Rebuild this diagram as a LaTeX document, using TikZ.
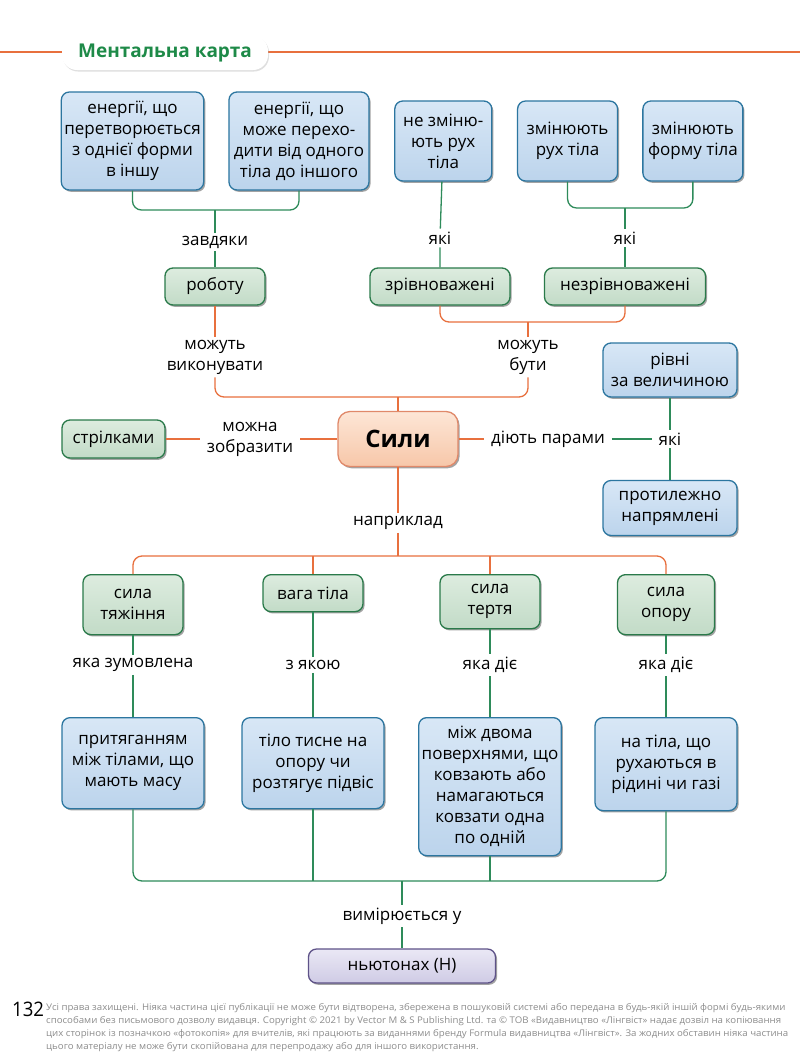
\documentclass[tikz,border=0pt]{standalone}
\usepackage{fontspec}
\setmainfont{Open Sans}
\newfontfamily\footfont[FakeStretch=1.05]{Open Sans}
\newfontfamily\pagefont[FakeStretch=0.93]{Open Sans}
\usetikzlibrary{positioning,shadows}

\definecolor{blutop}{HTML}{D8E7F6}
\definecolor{blubot}{HTML}{BCD4EC}
\definecolor{bludraw}{HTML}{2C76A0}
\definecolor{grntop}{HTML}{DDECDF}
\definecolor{grnbot}{HTML}{C2DBC7}
\definecolor{grndraw}{HTML}{2A7A4A}
\definecolor{orntop}{HTML}{FDE6D6}
\definecolor{ornbot}{HTML}{F7C7A9}
\definecolor{orndraw}{HTML}{E0896A}
\definecolor{lavtop}{HTML}{EAE8F5}
\definecolor{lavbot}{HTML}{CFCBE5}
\definecolor{lavdraw}{HTML}{5E5288}
\definecolor{gline}{HTML}{2E8B5A}
\definecolor{oline}{HTML}{E8703E}
\definecolor{ttlgreen}{HTML}{1E8A48}

\begin{document}
\begin{tikzpicture}[
  x=1pt, y=1pt,
  font=\fontsize{17}{21}\selectfont,
  box/.style={rounded corners=8pt, line width=1.3pt, align=center, inner sep=3pt,
              drop shadow={shadow xshift=1.6pt, shadow yshift=-1.8pt, fill=black!60, opacity=0.6}},
  blu/.style={box, draw=bludraw, top color=blutop, bottom color=blubot},
  grn/.style={box, draw=grndraw, top color=grntop, bottom color=grnbot},
  orn/.style={box, draw=orndraw, top color=orntop, bottom color=ornbot, rounded corners=12pt},
  lav/.style={box, draw=lavdraw, top color=lavtop, bottom color=lavbot},
  lbl/.style={align=center, inner xsep=7pt, inner ysep=3pt},
  gl/.style={draw=gline, line width=1.3pt},
  ol/.style={draw=oline, line width=1.3pt},
  ft/.style={anchor=base west, inner sep=0pt, text=black!45, font=\footfont\fontsize{9.2}{11}\selectfont},
]
\fill[white] (0,0) rectangle (800,-1058);
\useasboundingbox (0,0) rectangle (800,-1058);

% title bar
\draw[oline, line width=2.6pt] (0,-52) -- (800,-52);
\node[fill=white, rounded corners=15pt, minimum width=206pt, minimum height=34pt,
      font=\fontsize{19}{22}\selectfont\bfseries, text=ttlgreen,
      drop shadow={shadow xshift=1pt, shadow yshift=-1.5pt, opacity=0.25}] (title) at (165,-53) {Ментальна карта};

% top row
\node[blu, minimum width=141pt, minimum height=98pt] (en1) at (132.5,-141) {енергії, що\\перетворюється\\з однієї форми\\в іншу};
\node[blu, minimum width=140pt, minimum height=98pt, right=24pt of en1] (en2) {енергії, що\\може перехо-\\дити від одного\\тіла до іншого};
\node[blu, minimum width=97pt, minimum height=80pt, right=24.5pt of en2] (nz) {не зміню-\\ють рух\\тіла};
\node[blu, minimum width=100pt, minimum height=80pt, right=24.5pt of nz] (zr) {змінюють\\рух тіла};
\node[blu, minimum width=100pt, minimum height=80pt, right=24pt of zr] (zf) {змінюють\\форму тіла};

\coordinate (j1) at (215,-210);
\coordinate (j2) at (625,-208);
\node[lbl] (zav) at (215,-242) {завдяки};
\node[lbl] (yak1) at (440,-238) {які};
\node[lbl] (yak2) at (625,-238) {які};

\node[grn, minimum width=100pt, minimum height=37pt] (rob) at (215,-286.5) {роботу};
\node[grn, minimum width=140pt, minimum height=37pt] (zriv) at (440,-286.5) {зрівноважені};
\node[grn, minimum width=161pt, minimum height=37pt] (nezr) at (625,-286.5) {незрівноважені};

\coordinate (j3) at (528,-322);
\coordinate (j4) at (398,-397);
\node[lbl] (mozh1) at (215,-357) {можуть\\виконувати};
\node[lbl] (mozh2) at (528,-357) {можуть\\бути};

% middle
\node[orn, minimum width=120pt, minimum height=55pt, font=\fontsize{24}{28}\selectfont\bfseries] (syly) at (398,-439) {Сили};
\node[grn, minimum width=103pt, minimum height=38pt] (stril) at (113.5,-439) {стрілками};
\node[lbl] (mozhna) at (250,-439) {можна\\зобразити};
\node[lbl] (diyut) at (548,-439) {діють парами};
\node[lbl] (yak3) at (670,-439) {які};
\node[blu, minimum width=134pt, minimum height=54pt] (rivni) at (670,-370) {рівні\\за величиною};
\node[blu, minimum width=134pt, minimum height=55pt] (protyl) at (670,-508) {протилежно\\напрямлені};

\node[lbl] (napr) at (398,-523) {наприклад};
\coordinate (j5) at (398,-556);

% forces
\node[grn, anchor=north, minimum width=100pt, minimum height=60pt] (st) at (133,-574) {сила\\тяжіння};
\node[grn, anchor=north, minimum width=100pt, minimum height=37pt] (vaha) at (313,-574) {вага тіла};
\node[grn, anchor=north, minimum width=100pt, minimum height=54pt] (ster) at (490,-574) {сила\\тертя};
\node[grn, anchor=north, minimum width=97pt, minimum height=60pt] (sop) at (666,-574) {сила\\опору};

\node[lbl] (zum) at (133,-665) {яка зумовлена};
\node[lbl] (zyak) at (313,-665) {з якою};
\node[lbl] (diye1) at (490,-665) {яка діє};
\node[lbl] (diye2) at (666,-665) {яка діє};

\node[blu, anchor=north, minimum width=142pt, minimum height=91pt] (prit) at (133,-717) {притяганням\\між тілами, що\\мають масу};
\node[blu, anchor=north, minimum width=142pt, minimum height=91pt] (tilo) at (313,-717) {тіло тисне на\\опору чи\\розтягує підвіс};
\node[blu, anchor=north, minimum width=142pt, minimum height=138pt] (mizh) at (490,-717) {між двома\\поверхнями, що\\ковзають або\\намагаються\\ковзати одна\\по одній};
\node[blu, anchor=north, minimum width=142pt, minimum height=93pt] (nat) at (666,-717) {на тіла, що\\рухаються в\\рідині чи газі};

\coordinate (j6) at (402,-881);
\node[lbl] (vymir) at (402,-916) {вимірюється у};
\node[lav, minimum width=187pt, minimum height=34pt] (newt) at (402,-966) {ньютонах (Н)};

% connectors
\draw[gl, rounded corners=9pt] (en1.south) |- (j1) -| (en2.south);
\draw[gl] (j1) -- (zav) -- (rob);
\draw[gl] (nz) -- (yak1) -- (zriv);
\draw[gl, rounded corners=9pt] (zr.south) |- (j2) -| (zf.south);
\draw[gl] (j2) -- (yak2) -- (nezr);
\draw[ol, rounded corners=9pt] (zriv.south) |- (j3) -| (nezr.south);
\draw[ol] (j3) -- (mozh2);
\draw[ol] (rob) -- (mozh1);
\draw[ol, rounded corners=9pt] (mozh1) |- (j4) -| (mozh2);
\draw[ol] (j4) -- (syly);
\draw[ol] (syly) -- (mozhna) -- (stril);
\draw[ol] (syly) -- (diyut);
\draw[gl] (diyut) -- (yak3);
\draw[gl] (rivni) -- (yak3) -- (protyl);
\draw[ol] (syly) -- (napr) -- (j5);
\draw[ol, rounded corners=9pt] (st.north) |- (j5) -| (sop.north);
\draw[ol] (vaha.north) -- (vaha.north |- j5);
\draw[ol] (ster.north) -- (ster.north |- j5);
\draw[gl] (st) -- (zum) -- (prit);
\draw[gl] (vaha) -- (zyak) -- (tilo);
\draw[gl] (ster) -- (diye1) -- (mizh);
\draw[gl] (sop) -- (diye2) -- (nat);
\draw[gl, rounded corners=9pt] (prit.south) |- (j6) -| (nat.south);
\draw[gl] (tilo.south) -- (tilo.south |- j6);
\draw[gl] (mizh.south) -- (mizh.south |- j6);
\draw[gl] (j6) -- (vymir) -- (newt);

% footer
\node[anchor=base west, inner sep=0pt, font=\pagefont\fontsize{20}{24}\selectfont] (pnum) at (12,-1016) {132};
\node[ft] (foot1) at (46,-1010) {Усі права захищені. Ніяка частина цієї публікації не може бути відтворена, збережена в пошуковій системі або передана в будь-якій іншій формі будь-якими};
\node[ft] (foot2) at (46,-1023) {способами без письмового дозволу видавця. Copyright © 2021 by Vector M \& S Publishing Ltd. та © ТОВ «Видавництво «Лінгвіст» надає дозвіл на копіювання};
\node[ft] (foot3) at (46,-1036) {цих сторінок із позначкою «фотокопія» для вчителів, які працюють за виданнями бренду Formula видавництва «Лінгвіст». За жодних обставин ніяка частина};
\node[ft] (foot4) at (46,-1049) {цього матеріалу не може бути скопійована для перепродажу або для іншого використання.};
\end{tikzpicture}
\end{document}
